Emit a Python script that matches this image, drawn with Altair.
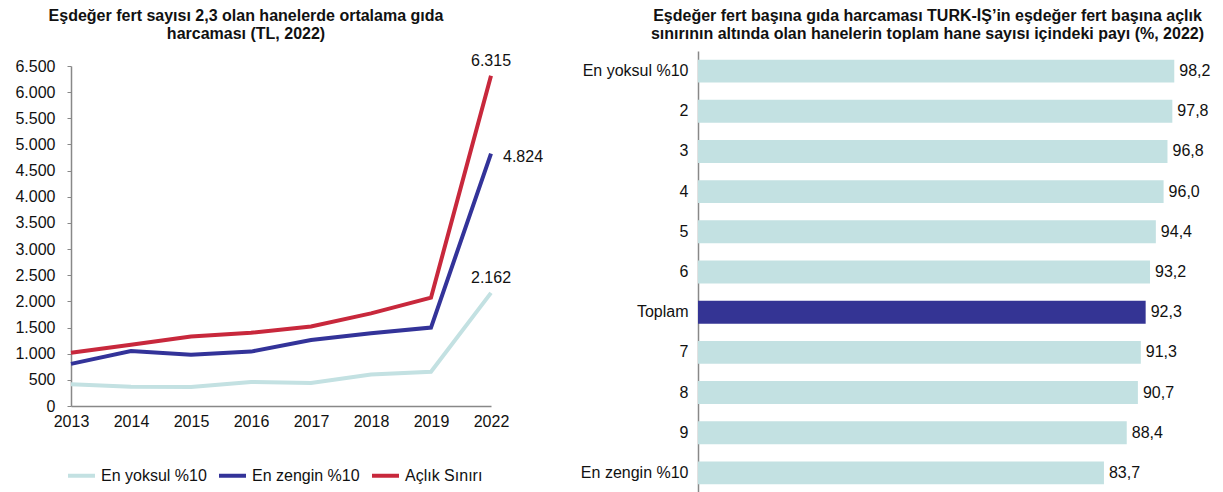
import altair as alt
import pandas as pd

# ---- Left chart data ----
years = ["2013", "2014", "2015", "2016", "2017", "2018", "2019", "2022"]
series_names = ["En yoksul %10", "En zengin %10", "Açlık Sınırı"]
yoksul = [415, 370, 365, 460, 440, 600, 655, 2162]
zengin = [805, 1050, 980, 1040, 1260, 1390, 1500, 4824]
aclik = [1020, 1170, 1330, 1400, 1520, 1770, 2070, 6315]
line_colors = ["#c3e1e2", "#333399", "#c8283c"]
y_ticks = [0, 500, 1000, 1500, 2000, 2500, 3000, 3500, 4000, 4500, 5000, 5500, 6000, 6500]

# ---- Right chart data ----
cats = ["En yoksul %10", "2", "3", "4", "5", "6", "Toplam", "7", "8", "9", "En zengin %10"]
shares = [98.2, 97.8, 96.8, 96.0, 94.4, 93.2, 92.3, 91.3, 90.7, 88.4, 83.7]

rows = []
for name, vals in zip(series_names, [yoksul, zengin, aclik]):
    for y, v in zip(years, vals):
        rows.append({"series": name, "year": y, "value": v})
ldf = pd.DataFrame(rows)

bdf = pd.DataFrame({"cat": cats, "share": shares})

FONT = "Liberation Sans"

xenc = alt.X("year:O", sort=years, scale=alt.Scale(padding=0),
             axis=alt.Axis(title=None, labelAngle=0, ticks=False, domainColor="#888",
                           domainWidth=1.5, labelPadding=7, labelFontSize=16,
                           labelColor="#111"))
yenc = alt.Y("value:Q", scale=alt.Scale(domain=[0, 6500], range=[355, 15], nice=False),
             axis=alt.Axis(title=None, values=y_ticks, tickSize=4,
                           tickColor="#888", domainColor="#888", domainWidth=1.5,
                           labelPadding=12, labelFontSize=16, labelColor="#111",
                           minExtent=63, labelOverlap=False,
                           labelExpr="replace(format(datum.value, ','), ',', '.')"))

lines = alt.Chart(ldf).mark_line(strokeWidth=4).encode(
    x=xenc, y=yenc,
    color=alt.Color("series:N", sort=series_names,
                    scale=alt.Scale(domain=series_names, range=line_colors),
                    legend=alt.Legend(orient="none", legendX=-5, legendY=409,
                                      direction="horizontal", title=None,
                                      symbolType="stroke", symbolStrokeWidth=4,
                                      symbolSize=729, labelFontSize=16,
                                      labelColor="#111", columnPadding=4,
                                      labelOffset=4, padding=0)),
    order=alt.Order("year:O"),
)

base_lbl = alt.Chart(ldf).transform_filter(alt.datum.year == "2022").transform_calculate(
    lbl="replace(format(datum.value, ','), ',', '.')"
)
lbl_acl = base_lbl.transform_filter(alt.datum.series == "Açlık Sınırı").mark_text(
    fontSize=16, dy=-15, align="center", color="#111").encode(
    x=xenc, y=yenc, text="lbl:N")
lbl_zen = base_lbl.transform_filter(alt.datum.series == "En zengin %10").mark_text(
    fontSize=16, dx=12, dy=3, align="left", color="#111").encode(
    x=xenc, y=yenc, text="lbl:N")
lbl_yok = base_lbl.transform_filter(alt.datum.series == "En yoksul %10").mark_text(
    fontSize=16, dy=-15, align="center", color="#111").encode(
    x=xenc, y=yenc, text="lbl:N")

left = alt.layer(lines, lbl_acl, lbl_zen, lbl_yok).properties(
    width=420, height=355,
    title=alt.TitleParams(
        text=["Eşdeğer fert sayısı 2,3 olan hanelerde ortalama gıda",
              "harcaması (TL, 2022)"],
        fontSize=16, fontWeight="bold", anchor="middle", dx=-35, offset=9,
        lineHeight=18, color="#111"),
)

ybar = alt.Y("cat:N", sort=cats,
             scale=alt.Scale(paddingInner=0.43, paddingOuter=0.215),
             axis=alt.Axis(title=None, ticks=False, domainColor="#888", domainWidth=1.5,
                           labelPadding=10, labelFontSize=16, labelColor="#111"))
xbar = alt.X("share:Q", scale=alt.Scale(domain=[0, 100], nice=False), axis=None)

bars = alt.Chart(bdf).mark_bar().encode(
    y=ybar, x=xbar,
    color=alt.condition(alt.datum.cat == "Toplam", alt.value("#343494"), alt.value("#c3e1e2")),
)
btext = alt.Chart(bdf).transform_calculate(
    lbl="replace(format(datum.share, '.1f'), '.', ',')"
).mark_text(align="left", dx=5, fontSize=16, color="#111").encode(
    y=ybar, x=xbar, text="lbl:N")

right = alt.layer(bars, btext).properties(
    width=485, height=442,
    title=alt.TitleParams(
        text=["Eşdeğer fert başına gıda harcaması TÜRK-İŞ’in eşdeğer fert başına açlık",
              "sınırının altında olan hanelerin toplam hane sayısı içindeki payı (%, 2022)"],
        fontSize=16, fontWeight="bold", anchor="middle", dx=-13, offset=9,
        lineHeight=18, color="#111"),
)

chart = alt.hconcat(left, right, spacing=207, bounds="flush").properties(
    padding={"left": 0, "top": 0, "right": 0, "bottom": 0}
).configure(
    font=FONT,
).configure_view(stroke=None).configure_axis(grid=False).configure_title(font=FONT)

chart.save("out.html", embed_options={"renderer": "svg", "actions": False})
